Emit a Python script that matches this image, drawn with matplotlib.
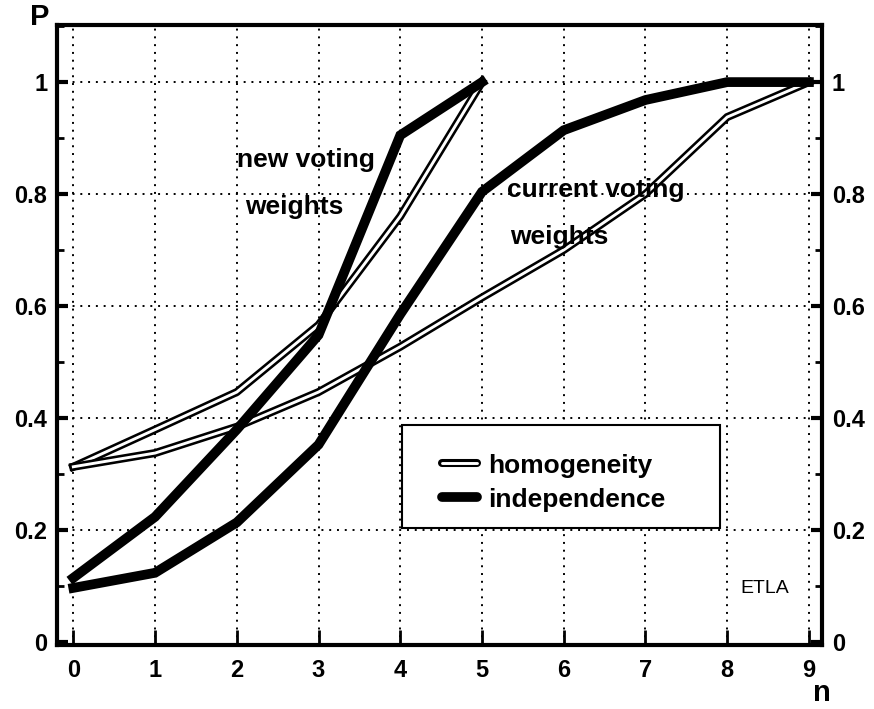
import numpy as np
import matplotlib
matplotlib.use("Agg")
import matplotlib.pyplot as plt
from matplotlib.lines import Line2D
from matplotlib.patches import Rectangle
from matplotlib.legend_handler import HandlerTuple
from matplotlib.ticker import MultipleLocator

plt.rcParams['font.family'] = ['Liberation Sans', 'DejaVu Sans']

# data
n_new = [0, 1, 2, 3, 4, 5]
n_cur = [0, 1, 2, 3, 4, 5, 6, 7, 8, 9]
new_indep = [0.114, 0.223, 0.379, 0.548, 0.905, 1.0]
new_homog = [0.3125, 0.379, 0.446, 0.566, 0.76, 1.0]
cur_indep = [0.096, 0.123, 0.213, 0.352, 0.585, 0.804, 0.914, 0.968, 1.0, 1.0]
cur_homog = [0.3125, 0.337, 0.384, 0.446, 0.527, 0.615, 0.70, 0.80, 0.9375, 1.0]
xticks = list(range(10))
yticks = [0, 0.2, 0.4, 0.6, 0.8, 1.0]
yticklabels = ["0", "0.2", "0.4", "0.6", "0.8", "1"]

fig = plt.figure(figsize=(8.74, 7.09), dpi=100)
ax = fig.add_axes([0.0652, 0.0903, 0.8753, 0.8744])

ax.set_xlim(-0.2, 9.16)
ax.set_ylim(-0.006, 1.102)

# grid
for xv in xticks:
    ax.axvline(xv, color='black', lw=1.4, ls=(0, (1, 3)), zorder=1)
for yv in yticks[1:]:
    ax.axhline(yv, color='black', lw=1.4, ls=(0, (1, 3)), zorder=1)

# homogeneity: double line (black outline, white core)
for xs, ys in [(n_new, new_homog), (n_cur, cur_homog)]:
    ax.plot(xs, ys, color='black', lw=5.8, solid_joinstyle='miter', zorder=3)
    ax.plot(xs, ys, color='white', lw=2.1, solid_joinstyle='miter', zorder=3)

# independence: thick black line
for xs, ys in [(n_new, new_indep), (n_cur, cur_indep)]:
    ax.plot(xs, ys, color='black', lw=7, solid_joinstyle='miter', zorder=4)

# spines and ticks
for sp in ax.spines.values():
    sp.set_linewidth(3)
ax.set_xticks(xticks)
ax.set_xticklabels([str(v) for v in xticks])
ax.set_yticks(yticks)
ax.set_yticklabels(yticklabels)
ax.yaxis.set_minor_locator(MultipleLocator(0.1))
ax.tick_params(axis='x', direction='in', length=11, width=2, pad=10,
               top=False, labelsize=17)
ax.tick_params(axis='y', which='major', direction='in', length=8, width=3,
               left=True, right=True, labelleft=True, labelright=True,
               pad=7, labelsize=17)
ax.tick_params(axis='y', which='minor', direction='in', length=5, width=2,
               left=True, right=True)
for lab in ax.get_xticklabels() + ax.get_yticklabels():
    lab.set_fontweight('bold')

# curve labels
ax.text(2.0, 0.861, "new voting", fontsize=19, fontweight='bold', va='center', zorder=5)
ax.text(2.1, 0.777, "weights", fontsize=19, fontweight='bold', va='center', zorder=5)
ax.text(5.31, 0.807, "current voting", fontsize=19, fontweight='bold', va='center', zorder=5)
ax.text(5.34, 0.723, "weights", fontsize=19, fontweight='bold', va='center', zorder=5)
ax.text(8.46, 0.095, "ETLA", fontsize=14, ha='center', va='center')

# axis names
fig.text(40 / 874, 1 - 17 / 709, "P", fontsize=21, fontweight='bold', ha='center', va='center')
fig.text(822 / 874, 1 - 693 / 709, "n", fontsize=21, fontweight='bold', ha='center', va='center')

# legend
box = Rectangle((0.451, 0.189), 0.416, 0.166, transform=ax.transAxes,
                facecolor='white', edgecolor='black', lw=1.5, zorder=6)
ax.add_patch(box)
h_homog = (Line2D([], [], color='black', lw=5.8, solid_capstyle='round'),
           Line2D([], [], color='white', lw=2.1, solid_capstyle='round'))
h_indep = Line2D([], [], color='black', lw=7, solid_capstyle='round')
leg = ax.legend([h_homog, h_indep], ["homogeneity", "independence"],
                handler_map={tuple: HandlerTuple(ndivide=1)},
                loc='center left', bbox_to_anchor=(0.49, 0.262),
                frameon=False, handlelength=1.3, handletextpad=0.45,
                labelspacing=0.38, borderaxespad=0,
                prop={'size': 19, 'weight': 'bold'})
leg.set_zorder(7)

plt.savefig("out.png", dpi=100)
